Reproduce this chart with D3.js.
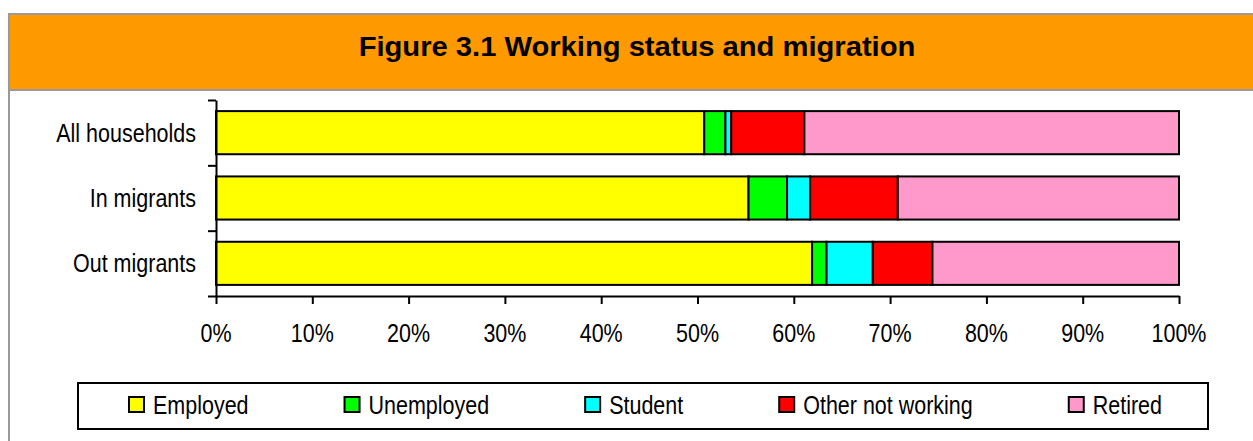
<!DOCTYPE html>
<html>
<head>
<meta charset="utf-8">
<script src="https://cdn.jsdelivr.net/npm/d3@7"></script>
<style>
  body { margin: 0; background: #fff; }
  text { font-family: "Liberation Sans", Arial, sans-serif; fill: #000; }
</style>
</head>
<body>
<div id="chart"></div>
<script>
// data (percent of each group)
var categories = ["All households", "In migrants", "Out migrants"];
var employed = [50.7, 55.3, 61.9];
var unemployed = [2.2, 4.0, 1.5];
var student = [0.6, 2.4, 4.8];
var otherNotWorking = [7.6, 9.1, 6.2];
var retired = [38.9, 29.2, 25.6];
var seriesNames = ["Employed", "Unemployed", "Student", "Other not working", "Retired"];
var seriesColors = ["#ffff00", "#00ff00", "#00ffff", "#ff0000", "#ff99cc"];
var xTicks = [0, 10, 20, 30, 40, 50, 60, 70, 80, 90, 100];

var W = 1253, H = 441;
var m = {top: 100, left: 216, right: 74, bottom: 145};

var svg = d3.select("#chart").append("svg")
    .attr("width", W)
    .attr("height", H);

// header band
svg.append("rect")
    .attr("x", 9).attr("y", 14)
    .attr("width", W + 5).attr("height", 76)
    .attr("fill", "#ff9900")
    .attr("stroke", "#999").attr("stroke-width", 2);
svg.append("line")
    .attr("x1", 9).attr("x2", 9).attr("y1", 14).attr("y2", H + 2)
    .attr("stroke", "#999").attr("stroke-width", 2);

svg.append("text")
    .attr("transform", "translate(637,56) scale(1.08,1)")
    .attr("text-anchor", "middle")
    .style("font-size", "27px")
    .style("font-weight", "bold")
    .text("Figure 3.1 Working status and migration");

// squeezed text helper (chart text is a little condensed)
var sx = 0.86;
function label(g, x, y, str, anchor) {
  return g.append("text")
      .attr("transform", "translate(" + x + "," + y + ") scale(" + sx + ",1)")
      .attr("text-anchor", anchor)
      .style("font-size", "25px")
      .text(str);
}

// table for the stack
var rows = categories.map(function(c, i) {
  return {cat: c, Employed: employed[i], Unemployed: unemployed[i], Student: student[i],
          "Other not working": otherNotWorking[i], Retired: retired[i]};
});
var stacked = d3.stack().keys(seriesNames)(rows);

var x = d3.scaleLinear().domain([0, 100]).range([m.left, W - m.right]);
var y = d3.scaleBand().domain(categories)
    .range([m.top, H - m.bottom])
    .paddingInner(0.34).paddingOuter(0.17);
var color = d3.scaleOrdinal().domain(seriesNames).range(seriesColors);

// bars
svg.append("g")
  .selectAll("g")
  .data(stacked)
  .join("g")
    .attr("fill", function(d) { return color(d.key); })
  .selectAll("rect")
  .data(function(d) { return d; })
  .join("rect")
    .attr("x", function(d) { return x(d[0]); })
    .attr("y", function(d) { return y(d.data.cat); })
    .attr("width", function(d) { return x(d[1]) - x(d[0]); })
    .attr("height", y.bandwidth())
    .attr("stroke", "#000")
    .attr("stroke-width", 2);

// y axis: ticks at category boundaries
var yEdge = d3.scaleLinear().domain([0, categories.length]).range([m.top, H - m.bottom]);
svg.append("g")
    .attr("transform", "translate(" + m.left + ",0)")
    .call(d3.axisLeft(yEdge).tickValues(d3.range(categories.length + 1)).tickFormat("").tickSize(8).tickSizeOuter(0))
    .call(function(g) { g.selectAll("line, path").attr("stroke", "#000").attr("stroke-width", 2); });

categories.forEach(function(c) {
  label(svg, 196, y(c) + y.bandwidth() / 2 + 9, c, "end");
});

// x axis
svg.append("g")
    .attr("transform", "translate(0," + (H - m.bottom) + ")")
    .call(d3.axisBottom(x).tickValues(xTicks).tickFormat("").tickSize(8).tickSizeOuter(0))
    .call(function(g) { g.selectAll("line, path").attr("stroke", "#000").attr("stroke-width", 2); });

xTicks.forEach(function(t) {
  label(svg, x(t), 342, t + "%", "middle");
});

// legend
var lg = svg.append("g");
lg.append("rect")
    .attr("x", 78).attr("y", 383)
    .attr("width", 1130).attr("height", 46)
    .attr("fill", "#fff")
    .attr("stroke", "#000").attr("stroke-width", 2);

var lx = 129;
seriesNames.forEach(function(s) {
  lg.append("rect")
      .attr("x", lx).attr("y", 397)
      .attr("width", 15).attr("height", 15)
      .attr("fill", color(s))
      .attr("stroke", "#000").attr("stroke-width", 2);
  var t = label(lg, lx + 24, 414, s, "start");
  lx += 24 + t.node().getComputedTextLength() * sx + 96;
});
</script>
</body>
</html>
